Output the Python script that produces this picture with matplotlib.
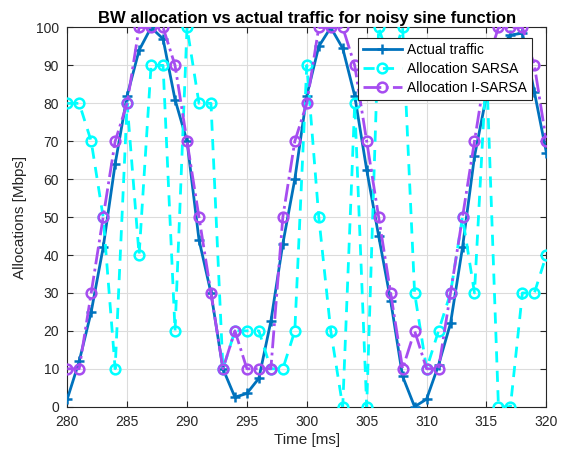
import matplotlib
matplotlib.use("Agg")
import matplotlib.pyplot as plt
import numpy as np

plt.rcParams['font.family'] = ['Liberation Sans', 'DejaVu Sans']

time_ms = list(range(280, 321))
actual_traffic = [2, 12, 25, 42, 64, 82, 94, 100, 97, 81,
                  70, 44, 30, 10, 2.5, 3.5, 7.5, 22.5, 43, 60,
                  82, 95, 100, 94.5, 82, 62.5, 45, 28, 8, 0,
                  2, 11, 22, 42, 66, 82, 94, 98, 98.5, 83, 67]
alloc_sarsa = [80, 80, 70, 50, 10, 80, 40, 90, 90, 20,
               100, 80, 80, 10, 20, 20, 20, 10, 10, 20,
               90, 50, 20, 0, 80, 0, 100, 90, 100, 30,
               10, 20, 30, 50, 30, 90, 0, 0, 30, 30, 40]
alloc_isarsa = [10, 10, 30, 50, 70, 80, 100, 100, 100, 90,
                70, 50, 30, 10, 20, 10, 10, 10, 50, 70,
                80, 100, 100, 100, 90, 70, 50, 30, 10, 20,
                10, 10, 30, 50, 70, 90, 100, 100, 100, 90, 70]
series_labels = ['Actual traffic', 'Allocation SARSA', 'Allocation I-SARSA']

fig = plt.figure(figsize=(5.65, 4.58), dpi=100)
ax = fig.add_axes([0.119, 0.112, 0.848, 0.828])

ax.plot(time_ms, actual_traffic, '-', color='#0072BD', lw=2.0, marker='+',
        ms=7, mew=1.8, label=series_labels[0], zorder=3)
ax.plot(time_ms, alloc_sarsa, '--', color='#00FFFF', lw=2.0, marker='o',
        ms=7, mfc='none', mew=1.8, label=series_labels[1], zorder=3,
        dashes=(4, 3))
ax.plot(time_ms, alloc_isarsa, '-.', color='#A64DF0', lw=2.0, marker='o',
        ms=7, mfc='none', mew=1.8, label=series_labels[2], zorder=4)

ax.set_xlim(280, 320)
ax.set_ylim(0, 100)
ax.set_xticks(range(280, 321, 5))
ax.set_yticks(range(0, 101, 10))
ax.grid(True, color='#DCDCDC', lw=0.8)
ax.set_axisbelow(True)
ax.tick_params(direction='in', length=4, labelsize=10, colors='#262626',
               top=True, right=True)
ax.tick_params(axis='x', pad=6)
ax.tick_params(axis='y', pad=6)
for s in ax.spines.values():
    s.set_color('#262626')
    s.set_linewidth(0.8)

ax.set_title('BW allocation vs actual traffic for noisy sine function',
             fontsize=12, fontweight='bold', pad=3)
ax.set_xlabel('Time [ms]', fontsize=11, color='#262626', labelpad=3)
ax.set_ylabel('Allocations [Mbps]', fontsize=11, color='#262626', labelpad=6)

leg = ax.legend(loc='upper right', bbox_to_anchor=(0.985, 0.99), fontsize=10,
                fancybox=False, framealpha=1, edgecolor='#262626',
                borderpad=0.35, labelspacing=0.35, handlelength=2.8,
                handletextpad=0.4)
leg.get_frame().set_linewidth(0.8)

fig.savefig('out.png', dpi=100)
